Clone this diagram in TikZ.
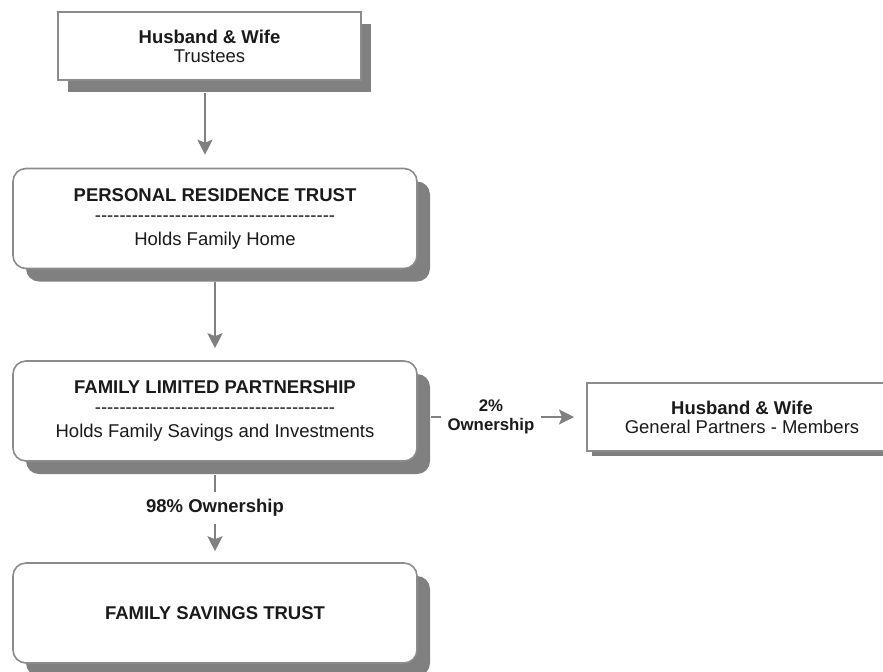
\documentclass[tikz,border=0pt]{standalone}
\usepackage{fontspec}
\setmainfont{Liberation Sans}
\usepackage{tikz}
\usetikzlibrary{shadows}
\usetikzlibrary{arrows.meta}
\definecolor{shadowgray}{HTML}{808080}
\definecolor{linegray}{HTML}{8C8C8C}
\definecolor{textblack}{HTML}{1A1A1A}
\newcommand{\dashrow}{\foreach\d in {1,...,39}{\mbox{-}}}

\tikzset{
  every node/.style={font=\fontsize{9.25}{9.5}\selectfont, text=textblack},
  plainbox/.style={draw=linegray, line width=1pt, fill=white, align=center, inner sep=0pt},
  roundbox/.style={draw=linegray, line width=0.8pt, fill=white, align=center, inner sep=0pt,
    rounded corners=6.5pt, minimum width=202pt, minimum height=50pt,
    drop shadow={shadow xshift=6.5pt, shadow yshift=-6.5pt, fill=shadowgray, opacity=1}},
  feed/.style={draw=shadowgray, line width=1pt},
  feedarrow/.style={feed, -{Stealth[length=7.5pt, width=7.5pt, inset=1.5pt]}},
}

\begin{document}
\begin{tikzpicture}[x=0.5pt,y=-0.5pt]
\useasboundingbox (0,0) rectangle (883,671);
\clip (0,0) rectangle (883,671);

\node[plainbox, minimum width=151.5pt, minimum height=34pt,
  drop shadow={shadow xshift=5pt, shadow yshift=-6pt, fill=shadowgray, opacity=1}]
  (trustees) at (209.5,46) {\textbf{Husband \& Wife}\\Trustees};
\node[roundbox] (prt) at (215,218.5)
  {\textbf{PERSONAL RESIDENCE TRUST}\\[0.5pt]\dashrow\\[2.5pt]Holds Family Home};
\node[roundbox] (flp) at (215,411)
  {\textbf{FAMILY LIMITED PARTNERSHIP}\\[0.5pt]\dashrow\\[2.5pt]Holds Family Savings and Investments};
\node[roundbox] (fst) at (215,613) {\textbf{FAMILY SAVINGS TRUST}};
\node[plainbox, minimum width=155pt, minimum height=34pt,
  drop shadow={shadow xshift=2.5pt, shadow yshift=-2.5pt, fill=shadowgray, opacity=1}]
  (partners) at (742,417) {\textbf{Husband \& Wife}\\General Partners - Members};

%\node at (491,417) {2\% Ownership};
\node[font=\fontsize{8.4}{9.5}\selectfont\bfseries, align=center] (own2) at (491,417) {2\%\\Ownership};
\node[font=\fontsize{9.25}{9.5}\selectfont\bfseries] (own98) at (215,508) {98\% Ownership};

\draw[feedarrow] ([shift={(-4.5,12)}]trustees.south) -- ([shift={(-10,-13)}]prt.north);
\draw[feedarrow] ([yshift=-6.5pt]prt.south) -- ([yshift=6pt]flp.north);
\draw[feed] ([shift={(13,6)}]flp.east) -- (own2.west);
\draw[feedarrow] (own2.east) -- ([xshift=-6pt]partners.west);
\draw[feed] ([yshift=-6.5pt]flp.south) -- (own98.north);
\draw[feedarrow] (own98.south) -- ([yshift=5.5pt]fst.north);

\end{tikzpicture}
\end{document}
